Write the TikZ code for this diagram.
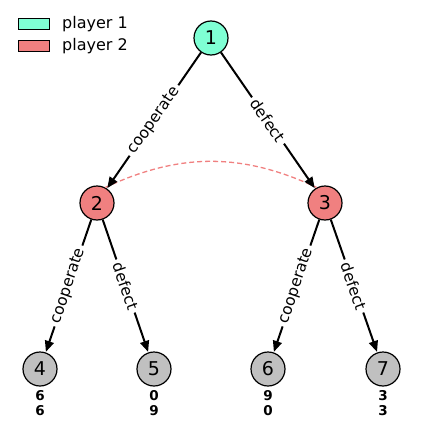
\documentclass[tikz,border=0pt]{standalone}
\usepackage{fontspec}
\setmainfont{DejaVu Sans}
\usetikzlibrary{arrows.meta}
\definecolor{pone}{HTML}{7FFFD4}
\definecolor{ptwo}{HTML}{F08080}
\definecolor{leaf}{HTML}{C0C0C0}
\begin{document}
\begin{tikzpicture}[x=1pt,y=-1pt,
  gnode/.style={circle,draw=black,line width=1.2pt,minimum size=34pt,inner sep=0pt,font=\fontsize{19}{19}\selectfont},
  move/.style={line width=2pt,-{Triangle[length=11pt,width=9pt]},shorten >=0.5pt},
  elabel/.style={sloped,fill=white,inner xsep=3.5pt,inner ysep=2pt,font=\fontsize{15.5}{15.5}\selectfont},
  payoff/.style={font=\fontsize{13.5}{15}\selectfont\bfseries,align=center},
  legbox/.style={draw=black,line width=1.2pt,minimum width=31pt,minimum height=11pt,inner sep=0pt},
  legtext/.style={anchor=west,font=\fontsize{16}{16}\selectfont,inner sep=0pt}]
\useasboundingbox (0,0) rectangle (423,423);
% legend
\node[legbox,fill=pone] (lb1) at (34,24) {};
\node[legbox,fill=ptwo] (lb2) at (34,46) {};
\node[legtext] (lt1) at (62,24) {player 1};
\node[legtext] (lt2) at (62,46) {player 2};
% nodes
\node[gnode,fill=pone] (n1) at (211,38) {1};
\node[gnode,fill=ptwo] (n2) at (97,203) {2};
\node[gnode,fill=ptwo] (n3) at (325,203) {3};
\node[gnode,fill=leaf] (n4) at (40,369) {4};
\node[gnode,fill=leaf] (n5) at (154,369) {5};
\node[gnode,fill=leaf] (n6) at (268,369) {6};
\node[gnode,fill=leaf] (n7) at (383,369) {7};
% payoffs
\node[payoff] (p4) at (40,403.5) {6\\6};
\node[payoff] (p5) at (154,403.5) {0\\9};
\node[payoff] (p6) at (268,403.5) {9\\0};
\node[payoff] (p7) at (383,403.5) {3\\3};
% information set
\draw[ptwo,line width=1.3pt,dash pattern=on 5pt off 3pt] (n2.62) to[out=25,in=155] (n3.118);
% moves
\draw[move] (n1) -- node[elabel] {cooperate} (n2);
\draw[move] (n1) -- node[elabel] {defect} (n3);
\draw[move] (n2) -- node[elabel] {cooperate} (n4);
\draw[move] (n2) -- node[elabel] {defect} (n5);
\draw[move] (n3) -- node[elabel] {cooperate} (n6);
\draw[move] (n3) -- node[elabel] {defect} (n7);
\end{tikzpicture}
\end{document}
